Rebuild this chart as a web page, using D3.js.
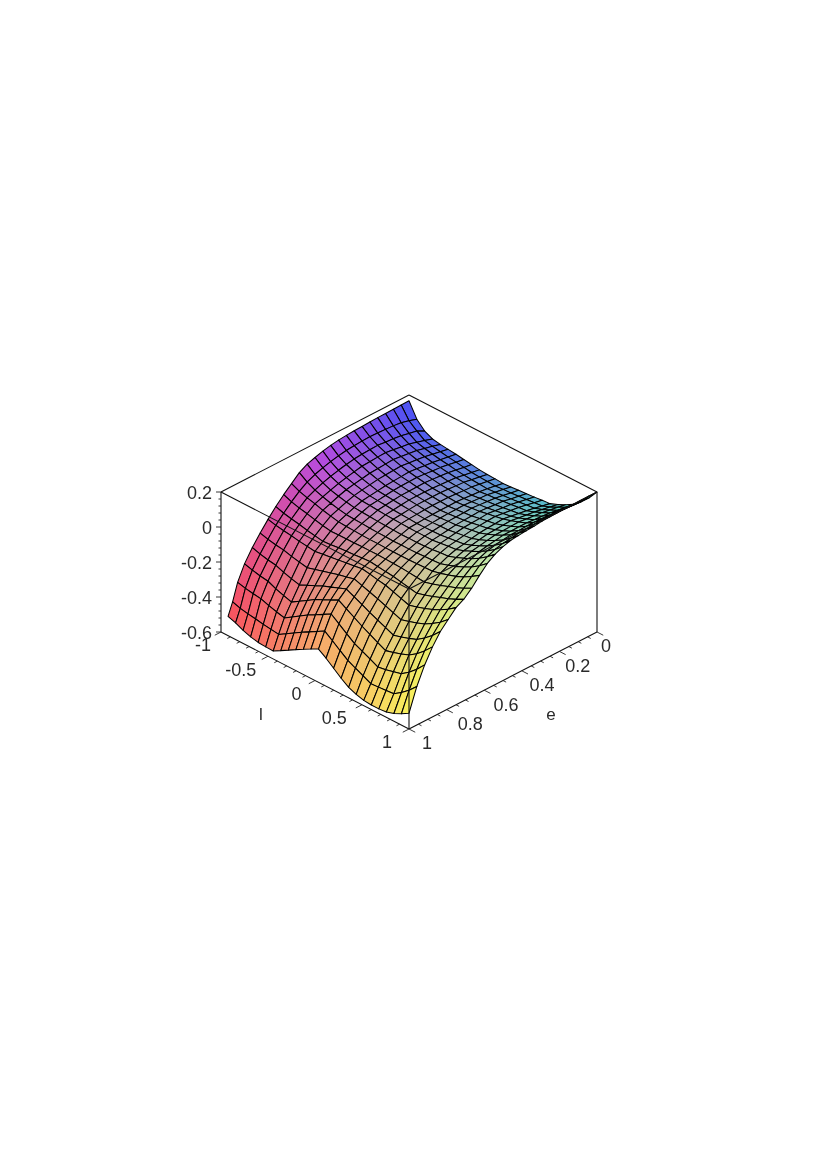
<!DOCTYPE html>
<html><head><meta charset="utf-8">
<style>html,body{margin:0;background:#fff}svg{display:block;filter:blur(0.4px)}text{font-family:"Liberation Sans",Arial,sans-serif;fill:#2a2a2a}</style>
<script src="https://cdn.jsdelivr.net/npm/d3@7"></script></head><body>
<script>
const lTicks=[-1,-0.5,0,0.5,1];
const eTicks=[0,0.2,0.4,0.6,0.8,1];
const zTicks=[-0.6,-0.4,-0.2,0,0.2];
const rowStart=[-1,-1,-1,-1,-1,-1,-1,-1,-1,-1,-1,-1,-1,-1,-1,-1,-1,-1,-1,-1,-1,-1,-0.99,-0.96,-0.925];
const zRows=[
[.167,.085,.040,.018,.010,.005,.000,-.007,-.013,-.020,-.023,-.025,-.028,-.025,-.021,-.018,-.014,-.009,-.005,.013,.035,.060,.098,.144,.200],
[.166,.099,.063,.032,.022,.014,.007,.001,-.006,-.012,-.015,-.017,-.020,-.016,-.013,-.009,-.005,.000,.004,.022,.043,.067,.103,.147,.200],
[.165,.111,.073,.045,.033,.023,.015,.009,.002,-.004,-.007,-.010,-.013,-.009,-.005,-.001,.004,.010,.015,.031,.051,.073,.107,.149,.200],
[.164,.116,.082,.058,.044,.032,.022,.016,.010,.004,.001,-.003,-.006,-.001,.003,.008,.013,.019,.024,.040,.059,.080,.112,.152,.200],
[.163,.119,.088,.065,.050,.038,.027,.020,.014,.007,.004,.000,-.003,.002,.007,.012,.018,.025,.031,.046,.064,.084,.115,.154,.200],
[.161,.121,.092,.072,.056,.043,.032,.025,.018,.011,.008,.004,.001,.006,.011,.016,.023,.031,.038,.052,.069,.088,.118,.154,.198],
[.159,.123,.097,.078,.062,.048,.037,.029,.022,.014,.011,.007,.004,.009,.015,.020,.029,.037,.046,.059,.075,.092,.120,.155,.197],
[.157,.121,.095,.076,.059,.046,.034,.028,.021,.015,.011,.007,.003,.008,.012,.017,.025,.034,.042,.056,.073,.092,.120,.154,.195],
[.154,.118,.092,.073,.056,.043,.031,.026,.020,.015,.011,.007,.003,.007,.011,.015,.023,.031,.039,.054,.071,.091,.118,.150,.190],
[.150,.114,.088,.070,.053,.040,.028,.024,.019,.015,.011,.006,.002,.005,.009,.012,.020,.027,.035,.051,.070,.091,.117,.149,.187],
[.143,.106,.080,.061,.045,.033,.022,.018,.014,.010,.007,.003,.000,.002,.004,.006,.013,.020,.027,.043,.062,.084,.111,.143,.183],
[.133,.096,.070,.051,.037,.026,.016,.012,.009,.005,.002,.000,-.003,-.002,-.001,.000,.006,.012,.018,.034,.054,.076,.104,.137,.178],
[.120,.084,.058,.040,.028,.018,.010,.007,.003,.000,-.002,-.004,-.006,-.006,-.006,-.006,-.001,.005,.010,.026,.046,.068,.094,.126,.165],
[.105,.069,.044,.026,.014,.004,-.005,-.008,-.011,-.014,-.016,-.018,-.020,-.019,-.019,-.018,-.014,-.009,-.005,.010,.029,.050,.076,.107,.145],
[.080,.049,.026,.010,-.003,-.013,-.022,-.025,-.027,-.030,-.032,-.033,-.035,-.034,-.034,-.033,-.030,-.028,-.025,-.011,.006,.025,.049,.079,.115],
[.040,.019,.005,-.006,-.020,-.030,-.040,-.043,-.045,-.048,-.049,-.049,-.050,-.050,-.050,-.050,-.048,-.047,-.045,-.034,-.020,-.005,.015,.040,.070],
[.000,-.018,-.031,-.040,-.052,-.062,-.070,-.069,-.069,-.068,-.067,-.067,-.066,-.068,-.070,-.072,-.076,-.081,-.085,-.072,-.057,-.040,-.024,-.004,.020],
[-.045,-.060,-.070,-.078,-.089,-.097,-.105,-.101,-.096,-.092,-.089,-.085,-.082,-.087,-.093,-.098,-.107,-.116,-.125,-.112,-.097,-.080,-.064,-.044,-.020],
[-.095,-.106,-.114,-.120,-.128,-.134,-.140,-.133,-.127,-.120,-.113,-.107,-.100,-.108,-.117,-.125,-.140,-.155,-.170,-.157,-.142,-.125,-.103,-.077,-.045],
[-.150,-.163,-.172,-.178,-.191,-.201,-.210,-.197,-.183,-.170,-.158,-.147,-.135,-.150,-.165,-.180,-.197,-.213,-.230,-.217,-.202,-.185,-.159,-.128,-.090],
[-.210,-.224,-.235,-.242,-.259,-.273,-.285,-.264,-.243,-.222,-.205,-.187,-.170,-.192,-.213,-.235,-.255,-.275,-.295,-.282,-.267,-.250,-.219,-.181,-.135],
[-.280,-.293,-.303,-.310,-.330,-.346,-.360,-.332,-.304,-.276,-.254,-.232,-.210,-.237,-.263,-.290,-.313,-.337,-.360,-.348,-.333,-.316,-.285,-.246,-.200],
[-.360,-.371,-.379,-.385,-.401,-.414,-.425,-.397,-.368,-.340,-.315,-.290,-.265,-.298,-.332,-.365,-.387,-.408,-.430,-.422,-.411,-.400,-.368,-.328,-.280],
[-.440,-.454,-.463,-.470,-.478,-.484,-.490,-.463,-.437,-.410,-.385,-.360,-.335,-.368,-.402,-.435,-.457,-.478,-.500,-.497,-.494,-.490,-.460,-.424,-.380],
[-.490,-.505,-.525,-.540,-.550,-.553,-.554,-.530,-.505,-.480,-.455,-.432,-.410,-.440,-.475,-.510,-.540,-.558,-.570,-.574,-.574,-.570,-.556,-.535,-.510]
];
const colLeft=["#4a50f5","#b848e0","#fa4f5a"];
const colMid=["#5a96d7","#bcacb0","#f8a868"];
const colRight=["#50e1be","#b6e4b0","#faf258"];

const W=817,H=1155,ox=409,oy=535;
const lx=d3.scaleLinear([-1,1],[0,188]),ly=d3.scaleLinear([-1,1],[0,97]);
const ex=d3.scaleLinear([0,1],[0,-188]),ey=d3.scaleLinear([0,1],[0,97]);
const zy=d3.scaleLinear([-0.6,0.2],[0,-140]);
const P=(l,e,z)=>[ox+lx(l)+ex(e),oy+ly(l)+ey(e)+zy(z)];
const eDom=[0,.5,1];
const cL=d3.scaleLinear(eDom,colLeft),cM=d3.scaleLinear(eDom,colMid),cR=d3.scaleLinear(eDom,colRight);
const color=(l,e)=>d3.scaleLinear([-1,0,1],[cL(e),cM(e),cR(e)])(l);

const svg=d3.select("body").append("svg").attr("width",W).attr("height",H);
const nE=zRows.length,nL=zRows[0].length;
const eAt=j=>j/(nE-1);
const lAt=(i,j)=>rowStart[j]+(1-rowStart[j])*i/(nL-1);
const pt=(i,j)=>P(lAt(i,j),eAt(j),zRows[j][i]);
const cells=[];
for(let i=0;i<nL-1;i++)for(let j=0;j<nE-1;j++)cells.push({i,j});
svg.append("g").selectAll("path").data(cells).join("path")
 .attr("d",c=>"M"+[pt(c.i,c.j),pt(c.i+1,c.j),pt(c.i+1,c.j+1),pt(c.i,c.j+1)].map(p=>p.join(",")).join("L")+"Z")
 .attr("fill",c=>color(lAt(c.i,c.j)+1/24,eAt(c.j)+1/48))
 .attr("stroke","#000").attr("stroke-width",1.05).attr("stroke-linejoin","round");

const box=svg.append("g").attr("stroke","#111").attr("stroke-width",1.1).attr("fill","none");
const seg=(a,b)=>box.append("line").attr("x1",a[0]).attr("y1",a[1]).attr("x2",b[0]).attr("y2",b[1]);
const zT=.2,zB=-.6;
[[[-1,1,zT],[-1,0,zT]],[[-1,0,zT],[1,0,zT]],[[-1,1,zT],[1,1,zT]],[[1,1,zT],[1,0,zT]],
 [[-1,1,zB],[-1,1,zT]],[[1,1,zB],[1,1,zT]],[[1,0,zB],[1,0,zT]],[[-1,1,zB],[1,1,zB]],[[1,1,zB],[1,0,zB]]]
 .forEach(s=>seg(P(...s[0]),P(...s[1])));

const tk=svg.append("g").attr("stroke","#222").attr("stroke-width",0.9);
const tick=(x1,y1,x2,y2)=>tk.append("line").attr("x1",x1).attr("y1",y1).attr("x2",x2).attr("y2",y2);
const isMaj=(v,step)=>Math.abs(v/step-Math.round(v/step))<1e-6;
d3.range(-1,1.0001,0.1).forEach(l=>{const p=P(l,1,zB),k=isMaj(l,.5)?7:3.5;tick(p[0],p[1],p[0]-.89*k,p[1]+.46*k)});
d3.range(0,1.0001,0.05).forEach(e=>{const p=P(1,e,zB),k=isMaj(e,.2)?7:3.5;tick(p[0],p[1],p[0]+.89*k,p[1]+.46*k)});
d3.range(-.6,.2001,.04).forEach(z=>{const p=P(-1,1,z),k=isMaj(z,.2)?5:2.5;tick(p[0],p[1],p[0]-k,p[1])});

const fmt=v=>String(Math.round(v*10)/10);
const label=(x,y,s,a,fs)=>svg.append("text").attr("x",x).attr("y",y).attr("dy",".36em").attr("text-anchor",a).attr("font-size",fs).text(s);
zTicks.forEach(z=>{const p=P(-1,1,z);label(212,p[1]+1,fmt(z),"end",18)});
lTicks.forEach(l=>{const p=P(l,1,zB);label(p[0]-13.5-3.5*l,p[1]+13,fmt(l),"end",18)});
eTicks.forEach(e=>{const p=P(1,e,zB);label(p[0]+4+9*e,p[1]+14,fmt(e),"start",18)});
label(261,714,"l","middle",17);
label(551,714,"e","middle",17);
</script></body></html>
